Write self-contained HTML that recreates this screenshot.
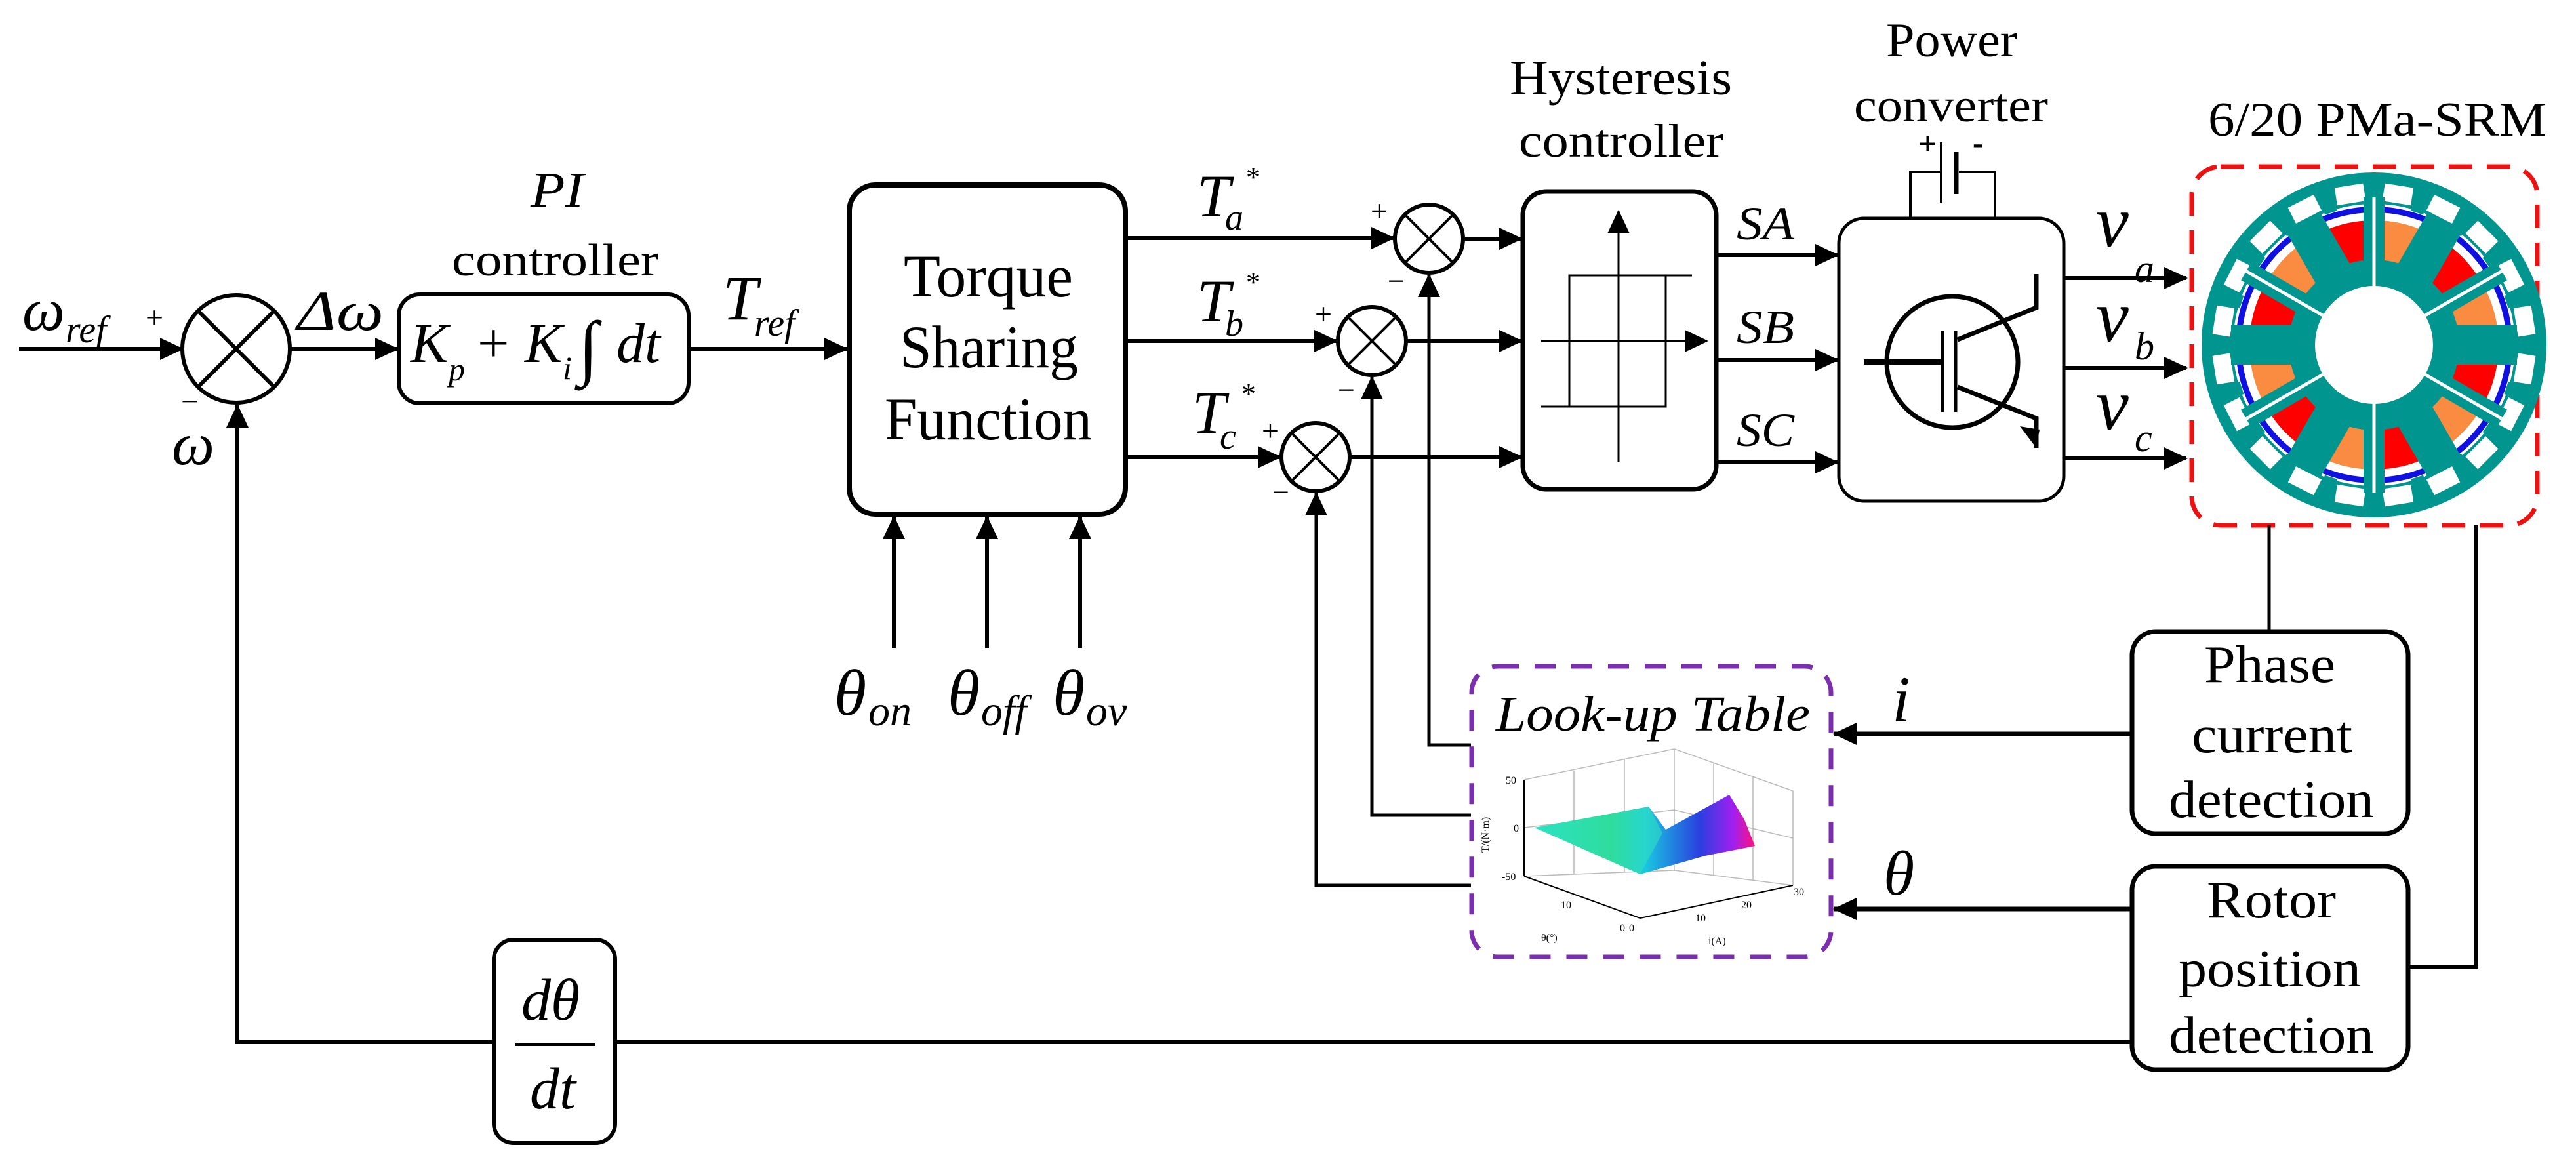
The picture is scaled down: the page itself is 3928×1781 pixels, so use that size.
<!DOCTYPE html>
<html><head><meta charset="utf-8"><style>
html,body{margin:0;padding:0;background:#fff}
svg{display:block}
svg text{font-family:"Liberation Serif","DejaVu Serif","Times New Roman",serif !important;fill:#000}
.i{font-style:italic}
</style></head><body>
<svg width="3928" height="1781" viewBox="0 0 3928 1781" xmlns="http://www.w3.org/2000/svg" font-family="'Liberation Serif', 'DejaVu Serif', serif">
<defs>
<marker id="ah" markerUnits="userSpaceOnUse" markerWidth="40" markerHeight="34" refX="34" refY="17" orient="auto">
<path d="M0,0 L36,17 L0,34 Z" fill="#000"/></marker>
<linearGradient id="sg" x1="0" y1="0" x2="1" y2="0">
<stop offset="0" stop-color="#22e6c8"/><stop offset="0.35" stop-color="#2fd86a"/><stop offset="0.5" stop-color="#19c8e0"/><stop offset="0.75" stop-color="#2a3fe0"/><stop offset="0.9" stop-color="#a020f0"/><stop offset="1" stop-color="#ff1080"/></linearGradient>
</defs>
<g stroke="#000" stroke-width="6" fill="none">
<line x1="29" y1="532" x2="278" y2="532" marker-end="url(#ah)"/>
<circle cx="360" cy="532" r="82"/>
<line x1="302" y1="474" x2="418" y2="590"/><line x1="418" y1="474" x2="302" y2="590"/>
<line x1="442" y1="532" x2="606" y2="532" marker-end="url(#ah)"/>
<rect x="608" y="449" width="442" height="166" rx="32"/>
<line x1="1050" y1="532" x2="1291" y2="532" marker-end="url(#ah)"/>
<rect x="1295" y="282" width="421" height="502" rx="40" stroke-width="8"/>
<line x1="1363" y1="988" x2="1363" y2="788" marker-end="url(#ah)"/>
<line x1="1505" y1="988" x2="1505" y2="788" marker-end="url(#ah)"/>
<line x1="1647" y1="988" x2="1647" y2="788" marker-end="url(#ah)"/>
<path d="M753,1589 L362,1589 L362,618" marker-end="url(#ah)"/>
<line x1="938" y1="1589" x2="3251" y2="1589"/>
<rect x="753" y="1433" width="185" height="310" rx="30"/>
<line x1="785" y1="1593" x2="908" y2="1593" stroke-width="4"/>
<line x1="1716" y1="363" x2="2125" y2="363" marker-end="url(#ah)"/>
<line x1="1716" y1="520" x2="2038" y2="520" marker-end="url(#ah)"/>
<line x1="1716" y1="697" x2="1952" y2="697" marker-end="url(#ah)"/>
<circle cx="2179" cy="364" r="52"/><line x1="2142" y1="327" x2="2216" y2="401" stroke-width="4"/><line x1="2216" y1="327" x2="2142" y2="401" stroke-width="4"/>
<circle cx="2092" cy="520" r="52"/><line x1="2055" y1="483" x2="2129" y2="557" stroke-width="4"/><line x1="2129" y1="483" x2="2055" y2="557" stroke-width="4"/>
<circle cx="2006" cy="697" r="52"/><line x1="1969" y1="660" x2="2043" y2="734" stroke-width="4"/><line x1="2043" y1="660" x2="1969" y2="734" stroke-width="4"/>
<line x1="2231" y1="364" x2="2320" y2="364" marker-end="url(#ah)"/>
<line x1="2144" y1="520" x2="2320" y2="520" marker-end="url(#ah)"/>
<line x1="2058" y1="697" x2="2320" y2="697" marker-end="url(#ah)"/>
<path d="M2243,1136 L2179,1136 L2179,419" marker-end="url(#ah)" stroke-width="5"/>
<path d="M2243,1243 L2092,1243 L2092,575" marker-end="url(#ah)" stroke-width="5"/>
<path d="M2243,1350 L2007,1350 L2007,752" marker-end="url(#ah)" stroke-width="5"/>
<rect x="2322" y="292" width="295" height="454" rx="36" stroke-width="7"/>
<line x1="2468" y1="705" x2="2468" y2="322" stroke-width="3" marker-end="url(#ah)"/>
<line x1="2350" y1="520" x2="2603" y2="520" stroke-width="3" marker-end="url(#ah)"/>
<path d="M2580,420 L2393,420 L2393,620 M2350,620 L2540,620 L2540,420" stroke-width="3"/>
<line x1="2617" y1="389" x2="2802" y2="389" marker-end="url(#ah)"/>
<line x1="2617" y1="549" x2="2802" y2="549" marker-end="url(#ah)"/>
<line x1="2617" y1="705" x2="2802" y2="705" marker-end="url(#ah)"/>
<rect x="2804" y="333" width="343" height="431" rx="38" stroke-width="5"/>
<path d="M2913,333 L2913,262 L2960,262 M2987,262 L3042,262 L3042,333" stroke-width="4"/>
<line x1="2960" y1="217" x2="2960" y2="309" stroke-width="4"/>
<line x1="2983" y1="232" x2="2983" y2="296" stroke-width="7"/>
<circle cx="2977" cy="552" r="100" stroke-width="7"/>
<line x1="2842" y1="552" x2="2960" y2="552" stroke-width="8"/>
<line x1="2962" y1="504" x2="2962" y2="628" stroke-width="5"/>
<line x1="2982" y1="504" x2="2982" y2="628" stroke-width="5"/>
<path d="M2985,518 L3105,469 L3105,418" stroke-width="7"/>
<path d="M2985,590 L3105,638 L3105,683" stroke-width="7"/>
<line x1="3147" y1="424" x2="3334" y2="424" marker-end="url(#ah)"/>
<line x1="3147" y1="561" x2="3334" y2="561" marker-end="url(#ah)"/>
<line x1="3147" y1="699" x2="3334" y2="699" marker-end="url(#ah)"/>
<rect x="3342" y="254" width="527" height="547" rx="44" stroke="#ee1111" stroke-width="7" stroke-dasharray="36,22"/>
<line x1="3460" y1="801" x2="3460" y2="963" stroke-width="5"/>
<path d="M3775,801 L3775,1474 L3672,1474" stroke-width="6"/>
<rect x="3251" y="963" width="421" height="308" rx="36" stroke-width="7"/>
<rect x="3251" y="1321" width="421" height="310" rx="36" stroke-width="7"/>
<line x1="3251" y1="1119" x2="2797" y2="1119" stroke-width="7" marker-end="url(#ah)"/>
<line x1="3251" y1="1386" x2="2797" y2="1386" stroke-width="7" marker-end="url(#ah)"/>
<rect x="2244" y="1016" width="548" height="443" rx="40" stroke="#7b2fae" stroke-width="7" stroke-dasharray="32,24"/>
</g>
<polygon points="3105,683 3080,650 3110,655" fill="#000"/>
<g stroke="#bbb" stroke-width="1.5" fill="none">
<line x1="2553" y1="1142" x2="2553" y2="1327"/><line x1="2324" y1="1189" x2="2553" y2="1142"/><line x1="2553" y1="1142" x2="2734" y2="1206"/>
<line x1="2734" y1="1206" x2="2734" y2="1350"/><line x1="2324" y1="1336" x2="2553" y2="1327"/><line x1="2553" y1="1327" x2="2734" y2="1350"/>
<line x1="2400" y1="1175" x2="2400" y2="1333"/><line x1="2477" y1="1158" x2="2477" y2="1330"/><line x1="2613" y1="1163" x2="2613" y2="1335"/><line x1="2673" y1="1185" x2="2673" y2="1343"/>
<line x1="2324" y1="1262" x2="2553" y2="1235"/><line x1="2553" y1="1235" x2="2734" y2="1278"/>
</g>
<g stroke="#000" stroke-width="2" fill="none">
<line x1="2324" y1="1189" x2="2324" y2="1336"/><line x1="2324" y1="1336" x2="2501" y2="1400"/><line x1="2501" y1="1400" x2="2734" y2="1350"/>
</g>
<polygon points="2340,1262 2514,1230 2540,1265 2637,1212 2660,1250 2676,1290 2600,1305 2501,1333" fill="url(#sg)"/>
<polygon points="2340,1262 2514,1230 2535,1270 2501,1333" fill="#30e0c0" opacity="0.6"/>
<g font-size="16">
<text x="2296" y="1195">50</text><text x="2308" y="1268">0</text><text x="2290" y="1342">-50</text>
<text x="2270" y="1300" transform="rotate(-90 2270 1300)">T/(N·m)</text>
<text x="2380" y="1385">10</text><text x="2470" y="1420">0</text><text x="2484" y="1420">0</text>
<text x="2585" y="1405">10</text><text x="2655" y="1385">20</text><text x="2735" y="1365">30</text>
<text x="2350" y="1435">θ(°)</text><text x="2605" y="1440">i(A)</text>
</g>
<g transform="translate(3620,526)">
<circle r="263" fill="#00968f"/>
<circle r="215" fill="#fff"/>
<g fill="#fff">
<rect x="-22" y="-246" width="44" height="27" transform="rotate(9)"/><rect x="-22" y="-246" width="44" height="27" transform="rotate(27)"/><rect x="-22" y="-246" width="44" height="27" transform="rotate(45)"/><rect x="-22" y="-246" width="44" height="27" transform="rotate(63)"/><rect x="-22" y="-246" width="44" height="27" transform="rotate(81)"/><rect x="-22" y="-246" width="44" height="27" transform="rotate(99)"/><rect x="-22" y="-246" width="44" height="27" transform="rotate(117)"/><rect x="-22" y="-246" width="44" height="27" transform="rotate(135)"/><rect x="-22" y="-246" width="44" height="27" transform="rotate(153)"/><rect x="-22" y="-246" width="44" height="27" transform="rotate(171)"/><rect x="-22" y="-246" width="44" height="27" transform="rotate(189)"/><rect x="-22" y="-246" width="44" height="27" transform="rotate(207)"/><rect x="-22" y="-246" width="44" height="27" transform="rotate(225)"/><rect x="-22" y="-246" width="44" height="27" transform="rotate(243)"/><rect x="-22" y="-246" width="44" height="27" transform="rotate(261)"/><rect x="-22" y="-246" width="44" height="27" transform="rotate(279)"/><rect x="-22" y="-246" width="44" height="27" transform="rotate(297)"/><rect x="-22" y="-246" width="44" height="27" transform="rotate(315)"/><rect x="-22" y="-246" width="44" height="27" transform="rotate(333)"/><rect x="-22" y="-246" width="44" height="27" transform="rotate(351)"/>
</g>
<g fill="#00968f">
<rect x="-10" y="-252" width="20" height="40" transform="rotate(0)"/><rect x="-10" y="-252" width="20" height="40" transform="rotate(18)"/><rect x="-10" y="-252" width="20" height="40" transform="rotate(36)"/><rect x="-10" y="-252" width="20" height="40" transform="rotate(54)"/><rect x="-10" y="-252" width="20" height="40" transform="rotate(72)"/><rect x="-10" y="-252" width="20" height="40" transform="rotate(90)"/><rect x="-10" y="-252" width="20" height="40" transform="rotate(108)"/><rect x="-10" y="-252" width="20" height="40" transform="rotate(126)"/><rect x="-10" y="-252" width="20" height="40" transform="rotate(144)"/><rect x="-10" y="-252" width="20" height="40" transform="rotate(162)"/><rect x="-10" y="-252" width="20" height="40" transform="rotate(180)"/><rect x="-10" y="-252" width="20" height="40" transform="rotate(198)"/><rect x="-10" y="-252" width="20" height="40" transform="rotate(216)"/><rect x="-10" y="-252" width="20" height="40" transform="rotate(234)"/><rect x="-10" y="-252" width="20" height="40" transform="rotate(252)"/><rect x="-10" y="-252" width="20" height="40" transform="rotate(270)"/><rect x="-10" y="-252" width="20" height="40" transform="rotate(288)"/><rect x="-10" y="-252" width="20" height="40" transform="rotate(306)"/><rect x="-10" y="-252" width="20" height="40" transform="rotate(324)"/><rect x="-10" y="-252" width="20" height="40" transform="rotate(342)"/>
</g>
<g fill="none" stroke="#1010e0" stroke-width="9">
<path d="M-43,-202 A207,207 0 0 1 43,-202" transform="rotate(-15)"/><path d="M-43,-202 A207,207 0 0 1 43,-202" transform="rotate(15)"/><path d="M-43,-202 A207,207 0 0 1 43,-202" transform="rotate(45)"/><path d="M-43,-202 A207,207 0 0 1 43,-202" transform="rotate(75)"/><path d="M-43,-202 A207,207 0 0 1 43,-202" transform="rotate(105)"/><path d="M-43,-202 A207,207 0 0 1 43,-202" transform="rotate(135)"/><path d="M-43,-202 A207,207 0 0 1 43,-202" transform="rotate(165)"/><path d="M-43,-202 A207,207 0 0 1 43,-202" transform="rotate(195)"/><path d="M-43,-202 A207,207 0 0 1 43,-202" transform="rotate(225)"/><path d="M-43,-202 A207,207 0 0 1 43,-202" transform="rotate(255)"/><path d="M-43,-202 A207,207 0 0 1 43,-202" transform="rotate(285)"/><path d="M-43,-202 A207,207 0 0 1 43,-202" transform="rotate(315)"/>
</g>
<g>
<path d="M-28,-122 L-43,-185 A190,190 0 0 1 43,-185 L28,-122 A125,125 0 0 0 -28,-122Z" fill="#ff0000" transform="rotate(-15)"/>
<path d="M-28,-122 L-43,-185 A190,190 0 0 1 43,-185 L28,-122 A125,125 0 0 0 -28,-122Z" fill="#f98c40" transform="rotate(15)"/>
<path d="M-28,-122 L-43,-185 A190,190 0 0 1 43,-185 L28,-122 A125,125 0 0 0 -28,-122Z" fill="#ff0000" transform="rotate(45)"/>
<path d="M-28,-122 L-43,-185 A190,190 0 0 1 43,-185 L28,-122 A125,125 0 0 0 -28,-122Z" fill="#f98c40" transform="rotate(75)"/>
<path d="M-28,-122 L-43,-185 A190,190 0 0 1 43,-185 L28,-122 A125,125 0 0 0 -28,-122Z" fill="#ff0000" transform="rotate(105)"/>
<path d="M-28,-122 L-43,-185 A190,190 0 0 1 43,-185 L28,-122 A125,125 0 0 0 -28,-122Z" fill="#f98c40" transform="rotate(135)"/>
<path d="M-28,-122 L-43,-185 A190,190 0 0 1 43,-185 L28,-122 A125,125 0 0 0 -28,-122Z" fill="#ff0000" transform="rotate(165)"/>
<path d="M-28,-122 L-43,-185 A190,190 0 0 1 43,-185 L28,-122 A125,125 0 0 0 -28,-122Z" fill="#f98c40" transform="rotate(195)"/>
<path d="M-28,-122 L-43,-185 A190,190 0 0 1 43,-185 L28,-122 A125,125 0 0 0 -28,-122Z" fill="#ff0000" transform="rotate(225)"/>
<path d="M-28,-122 L-43,-185 A190,190 0 0 1 43,-185 L28,-122 A125,125 0 0 0 -28,-122Z" fill="#f98c40" transform="rotate(255)"/>
<path d="M-28,-122 L-43,-185 A190,190 0 0 1 43,-185 L28,-122 A125,125 0 0 0 -28,-122Z" fill="#ff0000" transform="rotate(285)"/>
<path d="M-28,-122 L-43,-185 A190,190 0 0 1 43,-185 L28,-122 A125,125 0 0 0 -28,-122Z" fill="#f98c40" transform="rotate(315)"/>
</g>
<g fill="#00968f">
<rect x="-30" y="-218" width="60" height="130" transform="rotate(30)"/><rect x="-30" y="-218" width="60" height="130" transform="rotate(90)"/><rect x="-30" y="-218" width="60" height="130" transform="rotate(150)"/><rect x="-30" y="-218" width="60" height="130" transform="rotate(210)"/><rect x="-30" y="-218" width="60" height="130" transform="rotate(270)"/><rect x="-30" y="-218" width="60" height="130" transform="rotate(330)"/>
<rect x="-16" y="-225" width="32" height="140" transform="rotate(0)"/><rect x="-16" y="-225" width="32" height="140" transform="rotate(60)"/><rect x="-16" y="-225" width="32" height="140" transform="rotate(120)"/><rect x="-16" y="-225" width="32" height="140" transform="rotate(180)"/><rect x="-16" y="-225" width="32" height="140" transform="rotate(240)"/><rect x="-16" y="-225" width="32" height="140" transform="rotate(300)"/>
<circle r="130"/>
</g>
<g fill="#fff">
<rect x="-2.5" y="-225" width="5" height="140" transform="rotate(0)"/><rect x="-2.5" y="-225" width="5" height="140" transform="rotate(60)"/><rect x="-2.5" y="-225" width="5" height="140" transform="rotate(120)"/><rect x="-2.5" y="-225" width="5" height="140" transform="rotate(180)"/><rect x="-2.5" y="-225" width="5" height="140" transform="rotate(240)"/><rect x="-2.5" y="-225" width="5" height="140" transform="rotate(300)"/>
<circle r="90"/>
</g>
</g>
<text class="i" x="34" y="503" font-size="92">ω</text>
<text class="i" x="100" y="522" font-size="58">ref</text>
<text x="222" y="500" font-size="48">+</text>
<text x="276" y="628" font-size="48">−</text>
<text class="i" x="262" y="708" font-size="92">ω</text>
<text class="i" x="453" y="503" font-size="86" textLength="132" lengthAdjust="spacingAndGlyphs">Δω</text>
<text class="i" x="809" y="315" font-size="76" textLength="81" lengthAdjust="spacingAndGlyphs">PI</text>
<text x="689" y="420" font-size="70" textLength="315" lengthAdjust="spacingAndGlyphs">controller</text>
<text class="i" x="626" y="552" font-size="86">K</text>
<text class="i" x="684" y="580" font-size="50">p</text>
<text x="728" y="552" font-size="86">+</text>
<text class="i" x="800" y="552" font-size="86">K</text>
<text class="i" x="858" y="578" font-size="50">i</text>
<text x="882" y="566" font-size="110">∫</text>
<text class="i" x="940" y="552" font-size="86">dt</text>
<text class="i" x="1102" y="487" font-size="96">T</text>
<text class="i" x="1150" y="512" font-size="58">ref</text>
<text x="1378" y="452" font-size="92" textLength="258" lengthAdjust="spacingAndGlyphs">Torque</text>
<text x="1372" y="560" font-size="92" textLength="272" lengthAdjust="spacingAndGlyphs">Sharing</text>
<text x="1349" y="670" font-size="92" textLength="316" lengthAdjust="spacingAndGlyphs">Function</text>
<text class="i" x="1272" y="1090" font-size="100">θ</text><text class="i" x="1324" y="1106" font-size="66">on</text>
<text class="i" x="1445" y="1090" font-size="100">θ</text><text class="i" x="1496" y="1106" font-size="66">off</text>
<text class="i" x="1605" y="1090" font-size="100">θ</text><text class="i" x="1656" y="1106" font-size="66">ov</text>
<text class="i" x="1825" y="330" font-size="92">T</text><text class="i" x="1868" y="350" font-size="56">a</text><text x="1900" y="285" font-size="44">*</text>
<text class="i" x="1825" y="490" font-size="92">T</text><text class="i" x="1868" y="512" font-size="56">b</text><text x="1900" y="445" font-size="44">*</text>
<text class="i" x="1818" y="660" font-size="92">T</text><text class="i" x="1860" y="684" font-size="56">c</text><text x="1893" y="615" font-size="44">*</text>
<text x="2090" y="337" font-size="46">+</text><text x="2116" y="444" font-size="46">−</text>
<text x="2005" y="494" font-size="46">+</text><text x="2040" y="610" font-size="46">−</text>
<text x="1924" y="672" font-size="46">+</text><text x="1940" y="766" font-size="46">−</text>
<text x="2302" y="144" font-size="76" textLength="339" lengthAdjust="spacingAndGlyphs">Hysteresis</text>
<text x="2316" y="239" font-size="72" textLength="312" lengthAdjust="spacingAndGlyphs">controller</text>
<text class="i" x="2648" y="365" font-size="72" textLength="88" lengthAdjust="spacingAndGlyphs">SA</text>
<text class="i" x="2648" y="523" font-size="72" textLength="88" lengthAdjust="spacingAndGlyphs">SB</text>
<text class="i" x="2648" y="680" font-size="72" textLength="88" lengthAdjust="spacingAndGlyphs">SC</text>
<text x="2876" y="86" font-size="74" textLength="200" lengthAdjust="spacingAndGlyphs">Power</text>
<text x="2827" y="185" font-size="72" textLength="296" lengthAdjust="spacingAndGlyphs">converter</text>
<text x="2925" y="236" font-size="50" font-weight="bold">+</text><text x="3008" y="234" font-size="50" font-weight="bold">-</text>
<text class="i" x="3196" y="376" font-size="112">v</text><text class="i" x="3255" y="430" font-size="60">a</text>
<text class="i" x="3196" y="520" font-size="112">v</text><text class="i" x="3255" y="548" font-size="60">b</text>
<text class="i" x="3196" y="655" font-size="112">v</text><text class="i" x="3255" y="688" font-size="60">c</text>
<text x="3367" y="207" font-size="74" textLength="516" lengthAdjust="spacingAndGlyphs">6/20 PMa-SRM</text>
<text class="i" x="2281" y="1114" font-size="76" textLength="479" lengthAdjust="spacingAndGlyphs">Look-up Table</text>
<text class="i" x="2885" y="1100" font-size="100">i</text>
<text class="i" x="2872" y="1364" font-size="96">θ</text>
<text x="3361" y="1040" font-size="80" textLength="200" lengthAdjust="spacingAndGlyphs">Phase</text>
<text x="3342" y="1147" font-size="80" textLength="245" lengthAdjust="spacingAndGlyphs">current</text>
<text x="3307" y="1246" font-size="80" textLength="313" lengthAdjust="spacingAndGlyphs">detection</text>
<text x="3365" y="1399" font-size="80" textLength="197" lengthAdjust="spacingAndGlyphs">Rotor</text>
<text x="3322" y="1504" font-size="80" textLength="278" lengthAdjust="spacingAndGlyphs">position</text>
<text x="3307" y="1605" font-size="80" textLength="313" lengthAdjust="spacingAndGlyphs">detection</text>
<text class="i" x="795" y="1555" font-size="90">dθ</text>
<text class="i" x="808" y="1690" font-size="90">dt</text>
</svg>
</body></html>
